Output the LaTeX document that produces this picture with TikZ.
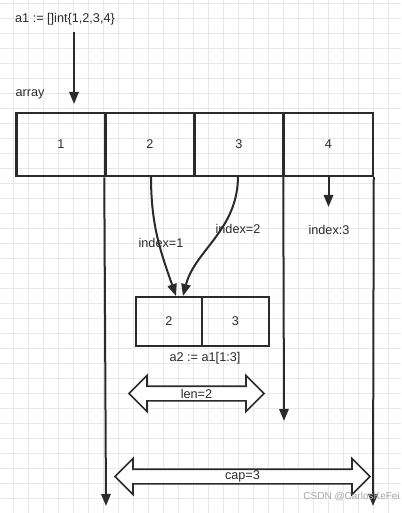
\documentclass[tikz,border=0pt]{standalone}
\usepackage{fontspec}
\setmainfont{Liberation Sans}
\usetikzlibrary{arrows.meta,shapes.arrows,positioning}
\definecolor{ink}{HTML}{2B2B2B}
\definecolor{gridline}{HTML}{E8E8E8}
\tikzset{
  cell/.style={draw=ink, line width=2.2pt, minimum width=88.5*0.75pt, minimum height=63*0.75pt, inner sep=0pt,
    font=\fontsize{9.5}{11}\selectfont, text=ink},
  lastcell/.style={cell, line width=1.5pt},
  slicecell/.style={cell, line width=1.5pt, minimum width=66.5*0.75pt, minimum height=49*0.75pt},
  lbl/.style={font=\fontsize{9.5}{11}\selectfont, text=ink, inner sep=1pt},
  link/.style={draw=ink, line width=1.5pt, -{Triangle[length=9pt,width=7pt]}},
  span/.style={double arrow, draw=ink, line width=1.3pt, fill=white, inner xsep=0pt, inner ysep=0pt,
    text height=9.75pt, text depth=0pt, double arrow head extend=7.9pt, double arrow tip angle=90}
}
\begin{document}
\begin{tikzpicture}[x=0.75pt, y=-0.75pt]
  \useasboundingbox (0,0) rectangle (401,513);
  \fill[white] (0,0) rectangle (401,513);
  % background grid
  \foreach \gx in {0,...,26} {
    \draw[gridline, line width=0.6pt] ({13.3+15*\gx},0) -- ({13.3+15*\gx},513);
  }
  \foreach \gy in {0,...,34} {
    \draw[gridline, line width=0.6pt] (0,{3.3+15*\gy}) -- (401,{3.3+15*\gy});
  }
  % declaration
  \node[lbl] (decl) at (65,19) {a1 := []int\{1,2,3,4\}};
  \coordinate (declend) at (74,104);
  \draw[link] (74,32) -- (declend);
  \node[lbl] (arrname) at (30,94) {array};
  % array cells
  \node[cell] (c1) at (61,144.5) {1};
  \node[cell] (c2) at (150,144.5) {2};
  \node[cell] (c3) at (239,144.5) {3};
  \node[lastcell] (c4) at (328.5,144.5) {4};
  % pointers down from the array
  \coordinate (ptrend) at (106,506);
  \coordinate (lenend) at (284,421);
  \coordinate (capend) at (373,506);
  \coordinate (idxend) at (328.5,207);
  \draw[link] (c2.south west) -- (ptrend);
  \draw[link] (c4.south west) -- (lenend);
  \draw[link] (c4.south east) -- (capend);
  \draw[link] (c4.south) -- (idxend);
  \node[lbl] (idx3) at (329,230) {index:3};
  % slice cells
  \node[slicecell] (s2) at (169,321.5) {2};
  \node[slicecell] (s3) at (235.5,321.5) {3};
  \draw[link] (151,176) .. controls (151,225) and (160,250) .. ([xshift=7*0.75pt]s2.north);
  \draw[link] (238,176) .. controls (238,230) and (195,250) .. ([xshift=14*0.75pt]s2.north);
  \node[lbl] (idx1) at (161,243) {index=1};
  \node[lbl] (idx2) at (238,229) {index=2};
  \node[lbl] (slicename) at (205,358) {a2 := a1[1:3]};
  % len and cap
  \node[span, minimum height=135*0.75pt] (lenarrow) at (196.5,393.5) {};
  \node[lbl] (lenlbl) at (lenarrow) {len=2};
  \node[span, minimum height=255*0.75pt] (caparrow) at (242.5,476.5) {};
  \node[lbl] (caplbl) at (caparrow) {cap=3};
  % watermark
  \node[anchor=east, font=\fontsize{7.5}{9}\selectfont, text=gray!70, inner sep=0pt] (mark) at (400,497) {CSDN @CarlosKeFei};
\end{tikzpicture}
\end{document}
